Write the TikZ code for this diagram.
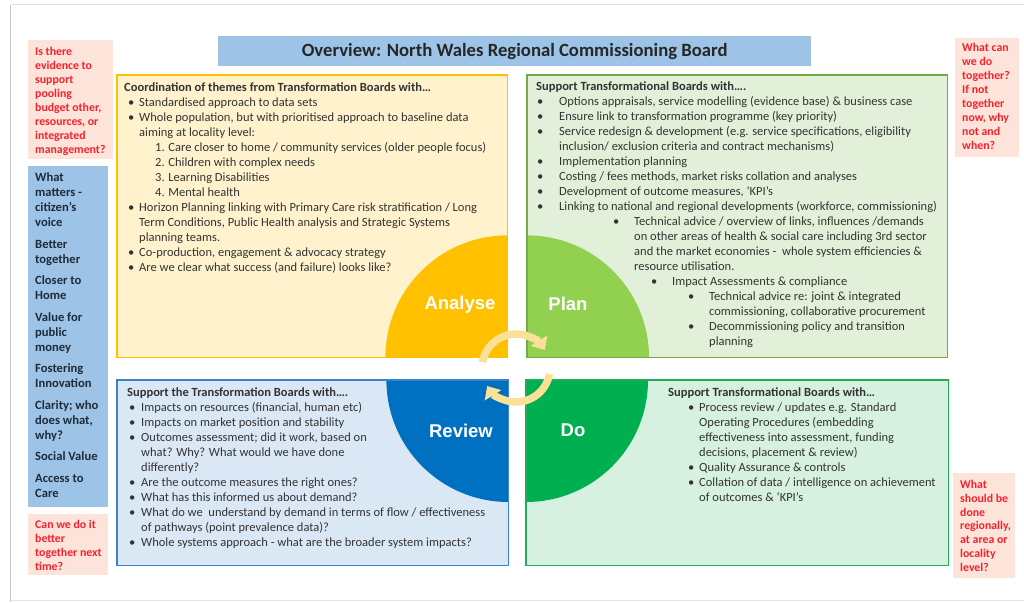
\documentclass[tikz,border=0pt]{standalone}
\usepackage{fontspec}
\setmainfont{Carlito}
\newfontfamily\lbsans{Liberation Sans}
\usetikzlibrary{arrows.meta}
\definecolor{anal}{HTML}{FFC000}
\definecolor{plan}{HTML}{92D050}
\definecolor{rev}{HTML}{0070C0}
\definecolor{dogreen}{HTML}{00B050}
\definecolor{anfill}{HTML}{FFF2CC}
\definecolor{plfill}{HTML}{E2F0D9}
\definecolor{rvfill}{HTML}{DAE8F6}
\definecolor{dofill}{HTML}{D6F1E0}
\definecolor{plborder}{HTML}{70AD47}
\definecolor{rvborder}{HTML}{3A84C9}
\definecolor{doborder}{HTML}{1DAF55}
\definecolor{titleblue}{HTML}{9DC3E6}
\definecolor{pinkbox}{HTML}{FCE4DA}
\definecolor{redtxt}{HTML}{F5222D}
\definecolor{bodytxt}{HTML}{333333}
\definecolor{bluetxt}{HTML}{1E2B38}
\definecolor{cycarrow}{HTML}{FBE097}
\newcommand\BL[3]{\hspace*{#1pt}\makebox[#2pt][l]{\textbullet}#3}
\newcommand\CL[2]{\hspace*{#1pt}#2}
\begin{document}
\begin{tikzpicture}[x=1pt,y=-1pt,
  boxfill/.style={inner sep=0pt,anchor=north west,minimum width=#1},
  body/.style={anchor=base west,inner sep=0pt,text=bodytxt,font=\fontsize{12.5}{15}\selectfont},
  sidetxt/.style={anchor=base west,inner sep=0pt,text=redtxt,font=\bfseries\fontsize{11.8}{14}\selectfont},
  quadlab/.style={text=white,inner sep=0pt,font=\lbsans\bfseries\fontsize{18.5}{20}\selectfont},
  cyc/.style={draw=cycarrow,line width=7.5pt,-{Triangle[width=19pt,length=11pt]}}]
\useasboundingbox (0,0) rectangle (1024,602);
\fill[white] (0,0) rectangle (1024,602);
% page edge
\draw[black!22,line width=1.5pt] (10.5,5) -- (10.5,602);
\draw[black!12,line width=1pt] (10.5,5) -- (1024,5);
\draw[black!10,line width=1pt] (10.5,600) -- (1024,600);

% title
\node[fill=titleblue,inner sep=0pt,minimum width=593pt,minimum height=30pt,anchor=north west] (title) at (218,36) {};
\node[inner sep=0pt,text=black!85,font=\bfseries\fontsize{18.7}{20}\selectfont] (titletxt) at (title.center) {Overview: North Wales Regional Commissioning Board};

% quadrant boxes (fill)
\node[fill=anfill,boxfill=390pt,minimum height=282pt] (anbox) at (117,75) {};
\node[fill=plfill,boxfill=420pt,minimum height=282pt] (plbox) at (527,75) {};
\node[fill=rvfill,boxfill=391pt,minimum height=185pt] (rvbox) at (117,380) {};
\node[fill=dofill,boxfill=422pt,minimum height=185pt] (dobox) at (526,380) {};

% quarter circles
\fill[anal] (anbox.south east) -- ++(-122,0) arc[start angle=180,end angle=270,radius=122] -- cycle;
\fill[plan] (plbox.south west) -- ++(0,-122) arc[start angle=270,end angle=360,radius=122] -- cycle;
\fill[rev] (rvbox.north east) -- ++(-122,0) arc[start angle=180,end angle=90,radius=122] -- cycle;
\fill[dogreen] (dobox.north west) -- ++(122,0) arc[start angle=0,end angle=90,radius=122] -- cycle;

% borders
\draw[anal,line width=1.8pt] (anbox.north west) rectangle (anbox.south east);
\draw[plborder,line width=1.8pt] (plbox.north west) rectangle (plbox.south east);
\draw[rvborder,line width=1.8pt] (rvbox.north west) rectangle (rvbox.south east);
\draw[doborder,line width=1.8pt] (dobox.north west) rectangle (dobox.south east);

% quadrant labels
\node[quadlab] (lan) at (460,305) {Analyse};
\node[quadlab] (lpl) at (568,304) {Plan};
\node[quadlab] (lrv) at (461,431) {Review};
\node[quadlab] (ldo) at (573,430) {Do};

% cycle arrows
\coordinate (cc) at (516,368);
\draw[cyc] (cc) ++(-170:34) arc[start angle=-170,end angle=-32,radius=34];
\draw[cyc] (cc) ++(10:34) arc[start angle=10,end angle=148,radius=34];

% texts in quadrants
\node[body] (tan) at (124,91.5) {\parbox[t]{420pt}{%
\textbf{Coordination of themes from Transformation Boards with…}\\
\BL{4}{11}{Standardised approach to data sets}\\
\BL{4}{11}{Whole population, but with prioritised approach to baseline data}\\
\CL{15}{aiming at locality level:}\\
\CL{31}{1. Care closer to home / community services (older people focus)}\\
\CL{31}{2. Children with complex needs}\\
\CL{31}{3. Learning Disabilities}\\
\CL{31}{4. Mental health}\\
\BL{4}{11}{Horizon Planning linking with Primary Care risk stratification / Long}\\
\CL{15}{Term Conditions, Public Health analysis and Strategic Systems}\\
\CL{15}{planning teams.}\\
\BL{4}{11}{Co-production, engagement \& advocacy strategy}\\
\BL{4}{11}{Are we clear what success (and failure) looks like?}}};

\node[body] (tpl) at (536,90.5) {\parbox[t]{420pt}{%
\textbf{Support Transformational Boards with….}\\
\BL{1}{22}{Options appraisals, service modelling (evidence base) \& business case}\\
\BL{1}{22}{Ensure link to transformation programme (key priority)}\\
\BL{1}{22}{Service redesign \& development (e.g. service specifications, eligibility}\\
\CL{23}{inclusion/ exclusion criteria and contract mechanisms)}\\
\BL{1}{22}{Implementation planning}\\
\BL{1}{22}{Costing / fees methods, market risks collation and analyses}\\
\BL{1}{22}{Development of outcome measures, ‘KPI’s}\\
\BL{1}{22}{Linking to national and regional developments (workforce, commissioning)}\\
\BL{77}{21}{Technical advice / overview of links, influences /demands}\\
\CL{98}{on other areas of health \& social care including 3rd sector}\\
\CL{98}{and the market economies -\ \ whole system efficiencies \&}\\
\CL{98}{resource utilisation.}\\
\BL{115}{21}{Impact Assessments \& compliance}\\
\BL{152}{21}{Technical advice re: joint \& integrated}\\
\CL{173}{commissioning, collaborative procurement}\\
\BL{152}{21}{Decommissioning policy and transition}\\
\CL{173}{planning}}};

\node[body] (trv) at (127,396.5) {\parbox[t]{420pt}{%
\textbf{Support the Transformation Boards with….}\\
\BL{2}{12}{Impacts on resources (financial, human etc)}\\
\BL{2}{12}{Impacts on market position and stability}\\
\BL{2}{12}{Outcomes assessment; did it work, based on}\\
\CL{14}{what? Why? What would we have done}\\
\CL{14}{differently?}\\
\BL{2}{12}{Are the outcome measures the right ones?}\\
\BL{2}{12}{What has this informed us about demand?}\\
\BL{2}{12}{What do we\ \ understand by demand in terms of flow / effectiveness}\\
\CL{14}{of pathways (point prevalence data)?}\\
\BL{2}{12}{Whole systems approach - what are the broader system impacts?}}};

\node[body] (tdo) at (668,396.5) {\parbox[t]{300pt}{%
\textbf{Support Transformational Boards with…}\\
\BL{20}{11}{Process review / updates e.g. Standard}\\
\CL{31}{Operating Procedures (embedding}\\
\CL{31}{effectiveness into assessment, funding}\\
\CL{31}{decisions, placement \& review)}\\
\BL{20}{11}{Quality Assurance \& controls}\\
\BL{20}{11}{Collation of data / intelligence on achievement}\\
\CL{31}{of outcomes \& ‘KPI’s}}};

% side boxes
\node[fill=pinkbox,boxfill=85pt,minimum height=119pt] (pk1) at (28,40) {};
\node[sidetxt] (pk1t) at (35,55.5) {\parbox[t]{80pt}{Is there\\evidence to\\support\\pooling\\budget other,\\resources, or\\integrated\\management?}};

\node[fill=titleblue,boxfill=80pt,minimum height=341pt] (bl) at (28,166) {};
\node[anchor=base west,inner sep=0pt,text=bluetxt,font=\bfseries\fontsize{12.6}{15}\selectfont] (blt) at (35,181.5) {\parbox[t]{75pt}{What\\matters -\\citizen’s\\voice\\[6.5pt]Better\\together\\[6.5pt]Closer to\\Home\\[6.5pt]Value for\\public\\money\\[6.5pt]Fostering\\Innovation\\[6.5pt]Clarity; who\\does what,\\why?\\[6.5pt]Social Value\\[6.5pt]Access to\\Care}};

\node[fill=pinkbox,boxfill=80pt,minimum height=61pt] (pk2) at (28,514) {};
\node[sidetxt] (pk2t) at (35,528.5) {\parbox[t]{80pt}{Can we do it\\better\\together next\\time?}};

\node[fill=pinkbox,boxfill=64pt,minimum height=119pt] (pk3) at (955,38) {};
\node[sidetxt] (pk3t) at (962,51.5) {\parbox[t]{60pt}{What can\\we do\\together?\\If not\\together\\now, why\\not and\\when?}};

\node[fill=pinkbox,boxfill=62pt,minimum height=105pt] (pk4) at (953,473) {};
\node[sidetxt,font=\bfseries\fontsize{11.8}{13.8}\selectfont] (pk4t) at (960,488.5) {\parbox[t]{60pt}{What\\should be\\done\\regionally,\\at area or\\locality\\level?}};
\end{tikzpicture}
\end{document}
